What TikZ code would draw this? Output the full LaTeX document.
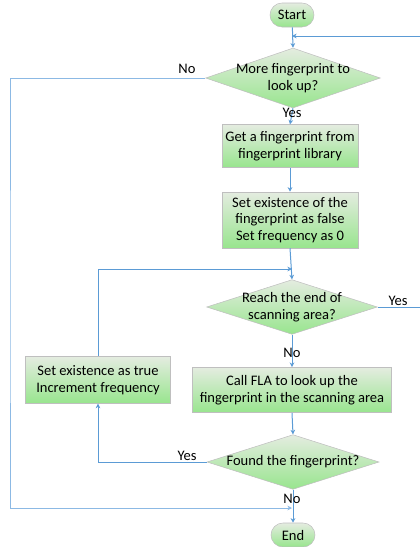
\documentclass[tikz,border=0pt]{standalone}
\usepackage{fontspec}
\setmainfont{Carlito}
\usetikzlibrary{shapes.geometric,shapes.misc,arrows.meta}

\definecolor{boxtop}{RGB}{228,236,224}
\definecolor{boxbot}{RGB}{152,229,142}
\definecolor{boxline}{RGB}{191,191,191}
\definecolor{flowblue}{RGB}{91,155,213}
\definecolor{paleblue}{RGB}{140,185,228}

\tikzset{
  box/.style = {draw=boxline, top color=boxtop, bottom color=boxbot, align=center, inner sep=0pt},
  term/.style = {box, rounded rectangle, minimum width=33pt, minimum height=18pt},
  proc/.style = {box, rectangle},
  decide/.style = {box, diamond},
  flow/.style = {draw=flowblue, line width=0.75pt, -{Stealth[length=3.5pt,width=3.5pt]}},
  link/.style = {draw=flowblue, line width=0.75pt},
  tag/.style = {inner sep=1pt}
}

\begin{document}
\begin{tikzpicture}[x=0.75pt, y=-0.75pt, font=\fontsize{10.9}{12.6}\selectfont]

\useasboundingbox (0,0) rectangle (420,547);

% shapes
\node[term] (start) at (292,15) {Start};
\node[decide, minimum width=131pt, minimum height=45pt,
  label={[align=center]center:More fingerprint to\\look up?}] (more) at (293,78) {};
\node[proc, minimum width=102pt, minimum height=32pt] (getfp) at (290,146)
  {Get a fingerprint from\\fingerprint library};
\node[proc, minimum width=102pt, minimum height=42pt] (setfalse) at (290,220)
  {Set existence of the\\fingerprint as false\\Set frequency as 0};
\node[decide, minimum width=128pt, minimum height=41pt,
  label={[align=center]center:Reach the end of\\scanning area?}] (reach) at (292,307) {};
\node[proc, minimum width=149pt, minimum height=34pt] (call) at (292,390)
  {Call FLA to look up the\\fingerprint in the scanning area};
\node[decide, minimum width=129pt, minimum height=41pt,
  label={center:Found the fingerprint?}] (found) at (293,462) {};
\node[proc, minimum width=109pt, minimum height=35pt] (settrue) at (98,380)
  {Set existence as true\\Increment frequency};
\node[term] (end) at (293,535) {End};

% merge points
\coordinate (top) at (292,36);
\coordinate (rtop) at (421,36);
\coordinate (loop) at (292,269);
\coordinate (bot) at (292,508);

% connectors
\draw[flow] (start) -- (more.north);
\draw[flow] (more.south) -- (getfp.north);
\draw[flow] (getfp.south) -- (setfalse.north);
\draw[flow] (setfalse.south) -- (reach.north);
\draw[flow] (reach.south) -- (call.north);
\draw[flow] (call.south) -- (found.north);
\draw[flow] (found.south) -- (end.north);
\draw[link] (reach.east) -| (rtop);
\draw[flow] (rtop) -- (top);
\draw[flow] (settrue.north) |- (loop);
\draw[flow] (found.west) -| (settrue.south);
\draw[flow, draw=paleblue] (more.west) -| (10,300) |- (bot);

% labels
\node[tag, anchor=south] (no1) at (187,75) {No};
\node[tag] (yes1) at (292,113) {Yes};
\node[tag, anchor=south] (yes2) at (398,307) {Yes};
\node[tag] (no2) at (292,353) {No};
\node[tag, anchor=south] (yes3) at (187,462) {Yes};
\node[tag] (no3) at (292,499) {No};

\end{tikzpicture}
\end{document}
